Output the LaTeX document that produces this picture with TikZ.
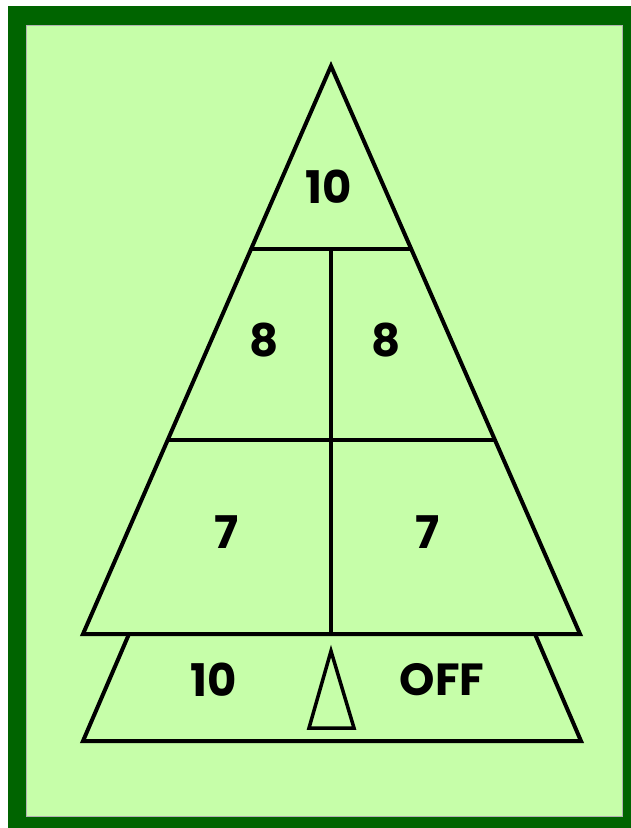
\documentclass[tikz,border=0pt]{standalone}
\usepackage{fontspec}
\setmainfont{Poppins}
\usepackage{tikz}
\usetikzlibrary{calc}
\definecolor{frame}{HTML}{006400}
\definecolor{board}{HTML}{C6FEA9}

\begin{document}
\begin{tikzpicture}[
    x=1pt, y=-1pt,
    edge/.style={draw=black, line width=4pt, line join=miter},
    pointer/.style={draw=black, line width=3.5pt, line join=miter},
    score/.style={font=\fontsize{45}{45}\selectfont\bfseries, inner sep=0pt, anchor=center}
]
    \useasboundingbox (0,0) rectangle (631,828);

    % Board background
    \fill[frame] (8,6) rectangle (631,828);
    \fill[board] (26,25) rectangle (622,816);
    \draw[gray!60, line width=1pt] (26,25) rectangle (622,816);

    % Triangle corners
    \coordinate (apex) at (331,66);
    \coordinate (bl) at (83,634);
    \coordinate (br) at (580,634);

    % Row boundaries on the sides
    \coordinate (r1l) at ($(apex)!0.322!(bl)$);
    \coordinate (r1r) at ($(apex)!0.322!(br)$);
    \coordinate (r2l) at ($(apex)!0.658!(bl)$);
    \coordinate (r2r) at ($(apex)!0.658!(br)$);
    \coordinate (m1) at (331,249);
    \coordinate (m2) at (331,634);

    % Off area corners
    \coordinate (ol) at (129,634);
    \coordinate (or) at (535,634);
    \coordinate (obl) at (83,741);
    \coordinate (obr) at (581,741);

    % Pointer
    \coordinate (ptop) at (331,651);
    \coordinate (pl) at (309,728);
    \coordinate (pr) at (354,728);

    % Outline
    \draw[edge] (apex) -- (bl) -- (br) -- cycle;
    \draw[edge] (r1l) -- (r1r);
    \draw[edge] (r2l) -- (r2r);
    \draw[edge] (m1) -- (m2);
    \draw[edge] (ol) -- (obl) -- (obr) -- (or);
    \draw[pointer] (ptop) -- (pl) -- (pr) -- cycle;

    % Scores
    \node[score] (s10) at (329,187) {10};
    \node[score] (s8l) at (264,340) {8};
    \node[score] (s8r) at (386,340) {8};
    \node[score] (s7l) at (227,532) {7};
    \node[score] (s7r) at (428,532) {7};
    \node[score] (sb10) at (214,680) {10};
    \node[score] (soff) at (442,680) {OFF};
\end{tikzpicture}
\end{document}
